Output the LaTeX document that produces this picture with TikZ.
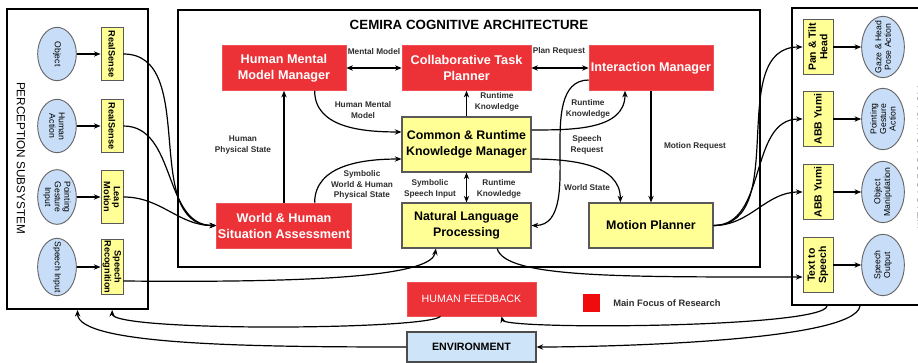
\documentclass[tikz,border=0pt]{standalone}
\usepackage{fontspec}
\setmainfont{Liberation Sans}
\usepackage{xcolor}
\usepackage{tikz}
\usetikzlibrary{arrows.meta,shapes.geometric}

\definecolor{focusred}{RGB}{236,50,55}
\definecolor{legendred}{RGB}{240,12,12}
\definecolor{moduleyellow}{RGB}{255,255,150}
\definecolor{sensorblue}{RGB}{200,222,248}
\definecolor{envblue}{RGB}{206,228,248}
\definecolor{labelgray}{RGB}{45,45,45}

\begin{document}
\begin{tikzpicture}[x=0.75pt, y=-0.75pt,
  frame/.style={draw, line width=1.4pt, inner sep=0pt},
  redmod/.style={fill=focusred, draw=focusred!85!white, text=white, align=center, inner sep=1pt,
    font=\bfseries\fontsize{9.5}{12}\selectfont, minimum width=93pt, minimum height=33.75pt},
  yelmod/.style={fill=moduleyellow, draw=black!65, line width=0.8pt, align=center, inner sep=1pt,
    font=\bfseries\fontsize{9.3}{12}\selectfont, minimum width=96.75pt, minimum height=33.75pt},
  devbox/.style={fill=moduleyellow, draw=black!65, line width=0.7pt, align=center, inner sep=0.5pt},
  sensorell/.style={ellipse, fill=sensorblue, draw=black!60, line width=0.7pt, align=center,
    inner xsep=-4pt, inner ysep=0pt, font=\fontsize{6.5}{7.2}\selectfont},
  lbl/.style={font=\bfseries\fontsize{6.2}{7.8}\selectfont, text=labelgray, align=center, inner sep=0pt},
  arr/.style={-{Stealth[length=5pt,width=4pt]}, line width=0.9pt},
  dbl/.style={{Stealth[length=5pt,width=4pt]}-{Stealth[length=5pt,width=4pt]}, line width=0.9pt}]

  \useasboundingbox (0,0) rectangle (918,363);
  \clip (0,0) rectangle (918,363);

  % Subsystem frames
  \node[frame, minimum width=105.75pt, minimum height=225pt] (perc) at (77.5,159) {};
  \node[frame, minimum width=436.5pt, minimum height=192.75pt] (arch) at (469,138.5) {};
  \node[frame, minimum width=111pt, minimum height=222.75pt] (act) at (866,156.5) {};
  \node[font=\fontsize{8.8}{10}\selectfont, rotate=-90] (perctitle) at (21,158) {PERCEPTION SUBSYSTEM};
  \node[font=\fontsize{8.8}{10}\selectfont, rotate=-90] (acttitle) at (922,158) {ACTUATION SUBSYSTEM};
  \node[font=\bfseries\fontsize{10}{12}\selectfont] (archtitle) at (469,25) {CEMIRA COGNITIVE ARCHITECTURE};

  % Perception subsystem
  \node[sensorell, rotate=-90, minimum width=40pt, minimum height=29pt] (pobj) at (57,54) {Object};
  \node[sensorell, rotate=-90, minimum width=40pt, minimum height=29pt] (pact) at (57,126) {Human\\Action};
  \node[sensorell, rotate=-90, minimum width=41pt, minimum height=29pt] (pgest) at (57,197) {Pointing\\Gesture\\Input};
  \node[sensorell, rotate=-90, minimum width=43pt, minimum height=29pt] (pspeech) at (57,267) {Speech Input};
  \node[devbox, rotate=-90, minimum width=40pt, minimum height=16.5pt, font=\bfseries\fontsize{6.9}{7.4}\selectfont] (prs1) at (112,54) {RealSense};
  \node[devbox, rotate=-90, minimum width=40pt, minimum height=16.5pt, font=\bfseries\fontsize{6.9}{7.4}\selectfont] (prs2) at (112,126) {RealSense};
  \node[devbox, rotate=-90, minimum width=40pt, minimum height=16.5pt, font=\bfseries\fontsize{6.9}{7.4}\selectfont] (pleap) at (112,197) {Leap\\Motion};
  \node[devbox, rotate=-90, minimum width=40pt, minimum height=16.5pt, font=\bfseries\fontsize{6.9}{7.4}\selectfont] (psr) at (112,267) {Speech\\Recognition};
  \foreach \e/\b in {pobj/prs1, pact/prs2, pgest/pleap, pspeech/psr}
    \draw[arr] (\e.north) -- (\b.south);

  % Actuation subsystem
  \node[devbox, rotate=90, minimum width=41pt, minimum height=22.5pt, font=\bfseries\fontsize{7.8}{8.6}\selectfont] (aptz) at (818,47) {Pan \& Tilt\\Head};
  \node[devbox, rotate=90, minimum width=41pt, minimum height=22.5pt, font=\bfseries\fontsize{7.8}{8.6}\selectfont] (ayumi1) at (818,119) {ABB Yumi};
  \node[devbox, rotate=90, minimum width=41pt, minimum height=22.5pt, font=\bfseries\fontsize{7.8}{8.6}\selectfont] (ayumi2) at (818,192) {ABB Yumi};
  \node[devbox, rotate=90, minimum width=41pt, minimum height=22.5pt, font=\bfseries\fontsize{7.8}{8.6}\selectfont] (atts) at (818,265) {Text to\\Speech};
  \node[sensorell, rotate=90, minimum width=46pt, minimum height=32pt] (agaze) at (883,47) {Gaze \& Head\\Pose Action};
  \node[sensorell, rotate=90, minimum width=46pt, minimum height=32pt] (apoint) at (883,119) {Pointing\\Gesture\\Action};
  \node[sensorell, rotate=90, minimum width=46pt, minimum height=32pt] (amanip) at (883,192) {Object\\Manipulation};
  \node[sensorell, rotate=90, minimum width=46pt, minimum height=32pt] (aspeech) at (883,265) {Speech\\Output};
  \foreach \b/\e in {aptz/agaze, ayumi1/apoint, ayumi2/amanip, atts/aspeech}
    \draw[arr] (\b.south) -- (\e.north);

  % Cognitive architecture modules
  \node[redmod] (hmmm) at (284,68) {Human Mental\\Model Manager};
  \node[redmod, minimum width=96.75pt] (ctp) at (466.5,68) {Collaborative Task\\Planner};
  \node[redmod] (im) at (651,68) {Interaction Manager};
  \node[yelmod, minimum height=41.25pt] (crkm) at (466.5,144.5) {Common \& Runtime\\Knowledge Manager};
  \node[yelmod] (nlp) at (466.5,225.5) {Natural Language\\Processing};
  \node[redmod] (whsa) at (284,225.5) {World \& Human\\Situation Assessment};
  \node[yelmod, minimum width=93pt] (mp) at (651,225.5) {Motion Planner};

  % Human feedback, environment and legend
  \node[redmod, minimum width=96.75pt, minimum height=25.5pt, font=\fontsize{8}{10}\selectfont] (hf) at (471.5,299) {HUMAN FEEDBACK};
  \node[fill=envblue, draw=black!70, line width=0.8pt, minimum width=96.75pt, minimum height=22.5pt,
    font=\bfseries\fontsize{8}{10}\selectfont] (env) at (471.5,347) {ENVIRONMENT};
  \node[fill=legendred, minimum size=13pt, inner sep=0pt] (legsq) at (591.5,303) {};
  \node[lbl, anchor=west, font=\bfseries\fontsize{7}{8}\selectfont] (legtxt) at (613,303) {Main Focus of Research};

  % Perception into the architecture
  \draw[arr] (prs1.north) to[out=0,in=180] (whsa.west);
  \draw[arr] (prs2.north) to[out=0,in=180] (whsa.west);
  \draw[arr] (pleap.north) to[out=0,in=180] (whsa.west);
  \draw[arr] ([yshift=-10.5pt]psr.north) .. controls (330,283) and (432,275) .. ([xshift=-23pt]nlp.south);

  % Inside the architecture
  \draw[dbl] (hmmm.east) -- (ctp.west);
  \draw[dbl] (ctp.east) -- (im.west);
  \draw[arr] (whsa.north) -- (hmmm.south);
  \draw[arr] ([xshift=23pt]hmmm.south) to[out=-90,in=180] ([yshift=9.4pt]crkm.west);
  \draw[arr] ([xshift=23pt]whsa.north) to[out=90,in=180] ([yshift=-10.9pt]crkm.west);
  \draw[arr] (crkm.north) -- (ctp.south);
  \draw[dbl] (crkm.south) -- (nlp.north);
  \draw[arr] ([yshift=10.9pt]crkm.east) to[out=0,in=-90] ([xshift=-19.5pt]im.south);
  \draw[arr] ([yshift=-9pt]im.west) to[out=180,in=90] (560,150) to[out=-90,in=0] (nlp.east);
  \draw[arr] ([yshift=-10.9pt]crkm.east) to[out=0,in=90] ([xshift=-23pt]mp.north);
  \draw[arr] (im.south) -- (mp.north);

  \node[lbl] (lblmm) at (374,52) {Mental Model};
  \node[lbl] (lblpr) at (559,51) {Plan Request};
  \node[lbl] (lblhmm) at (363,110) {Human Mental\\Model};
  \node[lbl] (lblhps) at (243,145) {Human\\Physical State};
  \node[lbl] (lblrk1) at (497,102) {Runtime\\Knowledge};
  \node[lbl] (lblrk2) at (588,109) {Runtime\\Knowledge};
  \node[lbl] (lblsreq) at (587,145) {Speech\\Request};
  \node[lbl] (lblmr) at (695,146) {Motion Request};
  \node[lbl] (lblws) at (587,188) {World State};
  \node[lbl] (lblswh) at (362,185) {Symbolic\\World \& Human\\Physical State};
  \node[lbl] (lblssi) at (430,189) {Symbolic\\Speech Input};
  \node[lbl] (lblrk3) at (499,189) {Runtime\\Knowledge};

  % Architecture to actuation
  \draw[arr] (mp.east) to[out=0,in=180] (aptz.north);
  \draw[arr] (mp.east) to[out=0,in=180] (ayumi1.north);
  \draw[arr] (mp.east) to[out=0,in=180] (ayumi2.north);
  \draw[arr] ([xshift=23pt]nlp.south) .. controls (505,278) and (620,277) .. ([yshift=-9pt]atts.north);

  % Feedback loops
  \draw[arr] ([xshift=-29.25pt]act.south) .. controls (825,328) and (505,330) .. ([xshift=22.5pt]hf.south);
  \draw[arr] ([xshift=-4.5pt]act.south) .. controls (855,342) and (600,347) .. (env.east);
  \draw[arr] ([xshift=-23.25pt]hf.south) .. controls (430,330) and (112,332) .. ([xshift=26pt]perc.south);
  \draw[arr] (env.west) .. controls (250,347) and (78,345) .. (perc.south);

\end{tikzpicture}
\end{document}
